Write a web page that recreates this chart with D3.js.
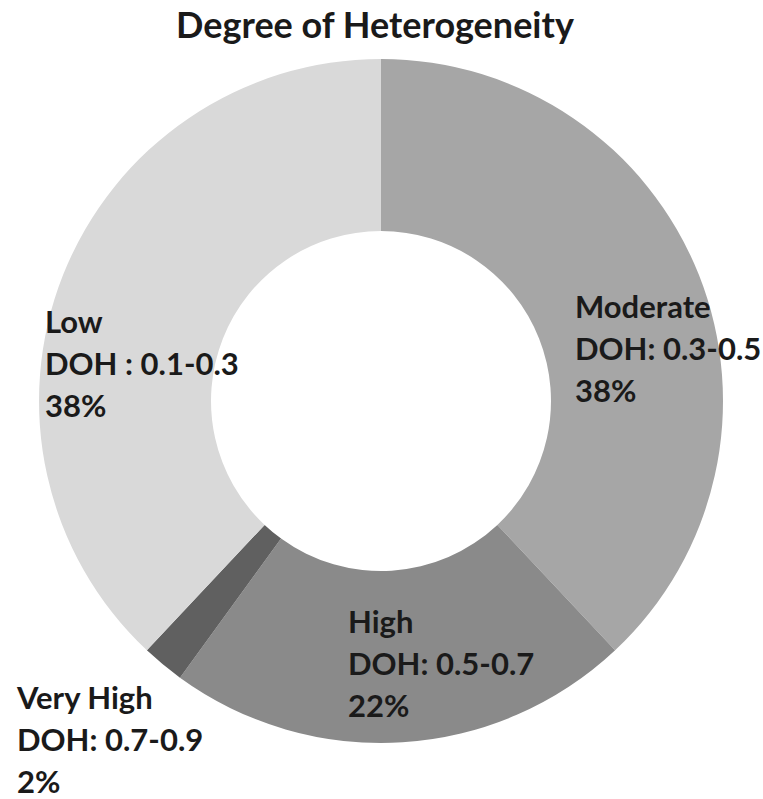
<!DOCTYPE html>
<html>
<head>
<meta charset="utf-8">
<script src="https://cdn.jsdelivr.net/npm/d3@7"></script>
<style>
  html, body { margin: 0; padding: 0; background: #fff; }
  svg { display: block; }
  text { font-family: Lato, "Open Sans", sans-serif; font-weight: bold; fill: #1a1a1a; }
</style>
</head>
<body>
<svg id="chart" width="763" height="799"></svg>
<script>
// slices in clockwise order starting at 12 o'clock
const categories = ['Moderate', 'High', 'Very High', 'Low'];
const ranges = ['DOH: 0.3-0.5', 'DOH: 0.5-0.7', 'DOH: 0.7-0.9', 'DOH : 0.1-0.3'];
const shares = [38, 22, 2, 38];

const fills = ['#a6a6a6', '#8a8a8a', '#606060', '#d9d9d9'];
// top-left of each label block (first baseline)
const labelPos = [[575, 318], [348, 633], [17, 709], [45, 333]];

const cx = 381;
const cy = 401;
const outerR = 342;
const innerR = 170;

const svg = d3.select('#chart');

svg.append('text')
  .attr('x', 375)
  .attr('y', 38)
  .attr('text-anchor', 'middle')
  .style('font-size', '36px')
  .text('Degree of Heterogeneity');

const pie = d3.pie().sort(null).value(d => d.value);
const arc = d3.arc().innerRadius(innerR).outerRadius(outerR);

const data = categories.map((c, i) => ({ name: c, range: ranges[i], value: shares[i] }));

const g = svg.append('g').attr('transform', `translate(${cx},${cy})`);

g.selectAll('path')
  .data(pie(data))
  .enter()
  .append('path')
  .attr('d', arc)
  .attr('fill', (d, i) => fills[i]);

const label = svg.selectAll('text.lbl')
  .data(data)
  .enter()
  .append('text')
  .attr('class', 'lbl')
  .style('font-size', '31px')
  .attr('transform', (d, i) => `translate(${labelPos[i][0]},${labelPos[i][1]})`);

label.selectAll('tspan')
  .data(d => [d.name, d.range, `${d.value}%`])
  .enter()
  .append('tspan')
  .attr('x', 0)
  .attr('y', (d, i) => i * 42)
  .text(d => d);
</script>
</body>
</html>
